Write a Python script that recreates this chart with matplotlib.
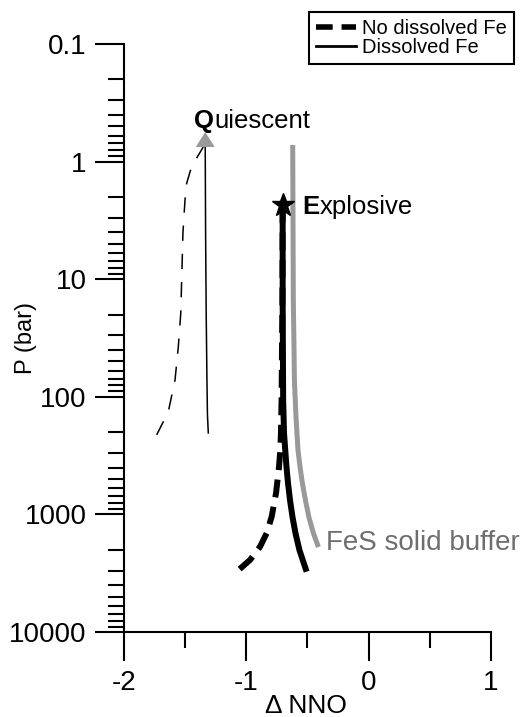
import matplotlib
matplotlib.use("Agg")
import matplotlib.pyplot as plt
from matplotlib.lines import Line2D
from matplotlib.ticker import FixedLocator, LogLocator, MultipleLocator, NullFormatter

plt.rcParams['font.family'] = ['Liberation Sans', 'DejaVu Sans']

# ---- data ----
# Quiescent, no dissolved Fe (thin dashed)
q_nofe_x = [-1.733, -1.638, -1.583, -1.556, -1.536, -1.518, -1.501, -1.487, -1.447, -1.352]
q_nofe_p = [211, 134, 72, 37.5, 19.5, 4.0, 2.1, 1.52, 1.10, 0.75]
# Quiescent, dissolved Fe (thin solid, arrow)
q_fe_x = [-1.311, -1.318, -1.322, -1.328, -1.333, -1.336]
q_fe_p = [203, 140, 72, 20, 4, 0.75]
q_arrow_tip_p = 0.56
# Explosive, no dissolved Fe (thick dashed)
e_nofe_x = [-0.703, -0.705, -0.712, -0.717, -0.722, -0.733, -0.757, -0.793, -0.833, -0.888, -0.970, -1.079]
e_nofe_p = [2.34, 15, 106, 203, 283, 395, 658, 1047, 1440, 1882, 2443, 3070]
# Explosive, dissolved Fe (thick solid)
e_fe_x = [-0.703, -0.703, -0.699, -0.692, -0.682, -0.672, -0.659, -0.643,
          -0.623, -0.598, -0.566, -0.507]
e_fe_p = [2.34, 15, 106, 204, 283, 393, 545, 755, 1047, 1449, 2009, 3070]
# FeS solid buffer (grey)
fes_x = [-0.621, -0.616, -0.610, -0.607, -0.594, -0.578, -0.561, -0.542, -0.517,
         -0.489, -0.452, -0.411]
fes_p = [0.723, 15, 40, 72, 149, 283, 395, 541, 755, 1052, 1440, 1893]
# star (eruption point)
star_x, star_p = -0.703, 2.34

x_ticks = [-2, -1, 0, 1]
x_tick_labels = ["-2", "-1", "0", "1"]
y_ticks = [0.1, 1, 10, 100, 1000, 10000]
y_tick_labels = ["0.1", "1", "10", "100", "1000", "10000"]
legend_labels = ["No dissolved Fe", "Dissolved Fe"]

GREY = "#999999"

fig = plt.figure(figsize=(5.26, 7.17), dpi=100)
ax = fig.add_axes([124 / 526, 1 - 632 / 717, 367 / 526, 588 / 717])

ax.plot(q_nofe_x, q_nofe_p, color="black", lw=1.1, dashes=(10, 8.5))
ax.plot(q_fe_x, q_fe_p, color="black", lw=1.1)
ax.annotate("", xy=(q_fe_x[-1], q_arrow_tip_p), xytext=(q_fe_x[-1], q_fe_p[-1]),
            arrowprops=dict(arrowstyle="-|>,head_length=0.54,head_width=0.34",
                            mutation_scale=20, color=GREY, lw=0, shrinkA=0, shrinkB=0))

ax.plot(fes_x, fes_p, color=GREY, lw=3.6, solid_capstyle="butt", solid_joinstyle="round")
ax.plot(e_nofe_x, e_nofe_p, color="black", lw=4.3, dashes=(3.0, 1.6), dash_capstyle="butt")
ax.plot(e_fe_x, e_fe_p, color="black", lw=4.3, solid_capstyle="butt", solid_joinstyle="round")
ax.plot([star_x], [star_p], marker="*", color="black", markersize=17, zorder=5)

# axes styling
ax.set_xlim(-2, 1)
ax.set_yscale("log")
ax.set_ylim(10000, 0.1)
for s in ("top", "right"):
    ax.spines[s].set_visible(False)
for s in ("left", "bottom"):
    ax.spines[s].set_linewidth(1.5)

ax.xaxis.set_major_locator(FixedLocator(x_ticks))
ax.set_xticklabels(x_tick_labels)
ax.xaxis.set_minor_locator(MultipleLocator(0.5))
ax.yaxis.set_major_locator(FixedLocator(y_ticks))
ax.set_yticklabels(y_tick_labels)
ax.yaxis.set_minor_locator(LogLocator(base=10, subs=[2, 3, 4, 5, 6, 7, 8, 9], numticks=20))
ax.yaxis.set_minor_formatter(NullFormatter())
ax.tick_params(which="major", direction="out", length=21, width=1.5, labelsize=20, pad=6)
ax.tick_params(which="minor", direction="out", length=11.5, width=1.5)

ax.set_ylabel("P (bar)", fontsize=17, va="center")
ax.yaxis.set_label_coords(-0.267, 0.5)
ax.set_xlabel("Δ NNO", fontsize=19, va="center")
ax.xaxis.set_label_coords(0.495, -0.126)

# annotations
q = ax.text(-1.428, 0.45, "Q", fontsize=18.5, fontweight="bold", va="center", ha="left")
ax.annotate("uiescent", xy=(1, 0), xycoords=q, va="bottom", ha="left", fontsize=18.5)
e = ax.text(-0.540, 2.43, "E", fontsize=18.5, fontweight="bold", va="center", ha="left")
ax.annotate("xplosive", xy=(1, 0), xycoords=e, va="bottom", ha="left", fontsize=18.5)
ax.text(-0.349, 1750, "FeS solid buffer", fontsize=20, color="#6e6e6e", va="center", ha="left")

handles = [Line2D([], [], color="black", lw=4, dashes=(3.0, 1.6)),
           Line2D([], [], color="black", lw=2)]
leg = fig.legend(handles, legend_labels, loc="upper right",
                 bbox_to_anchor=(514 / 526, 1 - 12 / 717), frameon=True, fancybox=False,
                 edgecolor="black", framealpha=1, fontsize=14.5, handlelength=2.0,
                 handletextpad=0.3, borderpad=0.35, labelspacing=0.0, borderaxespad=0)
leg.get_frame().set_linewidth(1.5)

fig.savefig("out.png", dpi=100)
